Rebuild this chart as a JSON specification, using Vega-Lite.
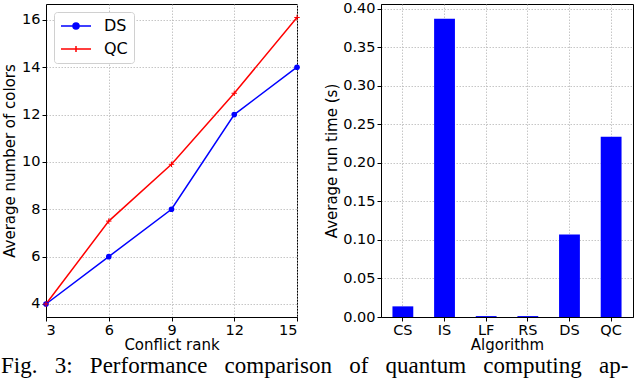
{
  "$schema": "https://vega.github.io/schema/vega-lite/v6.json",
  "padding": {"left": 1, "top": 0, "right": 5, "bottom": 0},
  "background": "white",
  "bounds": "flush",
  "spacing": 84,
  "config": {
    "font": "DejaVu Sans",
    "view": {"stroke": "black", "strokeWidth": 1},
    "axis": {
      "labelFont": "DejaVu Sans", "labelFontSize": 14.5, "labelColor": "black",
      "titleFont": "DejaVu Sans", "titleFontSize": 15, "titleFontWeight": "normal", "titleColor": "black",
      "domainColor": "black", "tickColor": "black", "tickSize": 4, "labelPadding": 2,
      "gridColor": "#b8b8b8", "gridDash": [1.5, 1.5], "gridWidth": 0.8
    },
    "title": {"font": "Liberation Serif", "fontSize": 23, "fontWeight": "normal", "color": "black"}
  },
  "title": {"text": "Fig.\u00a0\u00a0 3:\u00a0\u00a0 Performance\u00a0\u00a0 comparison\u00a0\u00a0 of\u00a0\u00a0 quantum\u00a0\u00a0 computing\u00a0\u00a0 ap-", "orient": "bottom", "anchor": "start", "offset": 2, "dx": -1},
  "datasets": {
    "lines": [
      {"rank": 3, "colors": 4, "algo": "DS"},
      {"rank": 6, "colors": 6, "algo": "DS"},
      {"rank": 9, "colors": 8, "algo": "DS"},
      {"rank": 12, "colors": 12, "algo": "DS"},
      {"rank": 15, "colors": 14, "algo": "DS"},
      {"rank": 3, "colors": 4, "algo": "QC"},
      {"rank": 6, "colors": 7.5, "algo": "QC"},
      {"rank": 9, "colors": 9.9, "algo": "QC"},
      {"rank": 12, "colors": 12.9, "algo": "QC"},
      {"rank": 15, "colors": 16.1, "algo": "QC"}
    ],
    "bars": [
      {"algorithm": "CS", "time": 0.0138},
      {"algorithm": "IS", "time": 0.387},
      {"algorithm": "LF", "time": 0.0012},
      {"algorithm": "RS", "time": 0.0012},
      {"algorithm": "DS", "time": 0.107},
      {"algorithm": "QC", "time": 0.2337}
    ]
  },
  "hconcat": [
    {
      "width": 251,
      "height": 313,
      "data": {"name": "lines"},
      "encoding": {
        "x": {"field": "rank", "type": "quantitative", "title": "Conflict rank",
              "scale": {"domain": [3, 15], "nice": false, "zero": false},
              "axis": {"values": [3, 6, 9, 12, 15], "grid": true, "titlePadding": 1}},
        "y": {"field": "colors", "type": "quantitative", "title": "Average number of colors",
              "scale": {"domain": [3.45, 16.67], "nice": false, "zero": false},
              "axis": {"values": [4, 6, 8, 10, 12, 14, 16], "grid": true, "titlePadding": 4}}
      },
      "layer": [
        {
          "mark": {"type": "line", "strokeWidth": 1.5},
          "encoding": {
            "color": {"field": "algo", "type": "nominal",
              "scale": {"domain": ["DS", "QC"], "range": ["#0000ff", "#ff0000"]},
              "legend": {
                "orient": "top-left", "offset": 8, "title": null,
                "labelFont": "DejaVu Sans", "labelFontSize": 16, "labelColor": "black",
                "symbolSize": 900, "symbolStrokeWidth": 1.5,
                "strokeColor": "#d0d0d0", "cornerRadius": 3, "padding": 6, "fillColor": "white",
                "clipHeight": 16, "rowPadding": 7, "labelOffset": 12,
                "encode": {"symbols": {"update": {
                  "shape": {"signal": "datum.value === 'DS' ? 'M-1,0L1,0M-0.2,0A0.2,0.2 0 1,1 0.2,0A0.2,0.2 0 1,1 -0.2,0Z' : 'M-1,0L1,0M0,-0.2L0,0.2'"},
                  "fill": {"signal": "datum.value === 'DS' ? '#0000ff' : 'transparent'"},
                  "stroke": {"signal": "datum.value === 'DS' ? '#0000ff' : '#ff0000'"}
                }}}
              }}
          }
        },
        {
          "transform": [{"filter": "datum.algo === 'DS'"}],
          "mark": {"type": "point", "filled": true, "shape": "circle", "size": 32, "color": "#0000ff", "opacity": 1},
          "encoding": {}
        },
        {
          "transform": [{"filter": "datum.algo === 'QC'"}],
          "mark": {"type": "point", "filled": false, "shape": "M-1,0L1,0M0,-1L0,1", "size": 30, "color": "#ff0000", "strokeWidth": 1, "opacity": 1},
          "encoding": {}
        }
      ]
    },
    {
      "width": 252,
      "height": 313,
      "data": {"name": "bars"},
      "mark": {"type": "bar", "color": "#0000ff"},
      "encoding": {
        "x": {"field": "algorithm", "type": "nominal", "title": "Algorithm", "sort": null,
              "scale": {"paddingInner": 0.5, "paddingOuter": 0.275},
              "axis": {"labelAngle": 0, "grid": true, "bandPosition": 0.5, "titlePadding": 1}},
        "y": {"field": "time", "type": "quantitative", "title": "Average run time (s)",
              "scale": {"domain": [0, 0.406], "nice": false},
              "axis": {"values": [0, 0.05, 0.1, 0.15, 0.2, 0.25, 0.3, 0.35, 0.4], "format": ".2f", "grid": true, "titlePadding": 3}}
      }
    }
  ]
}
